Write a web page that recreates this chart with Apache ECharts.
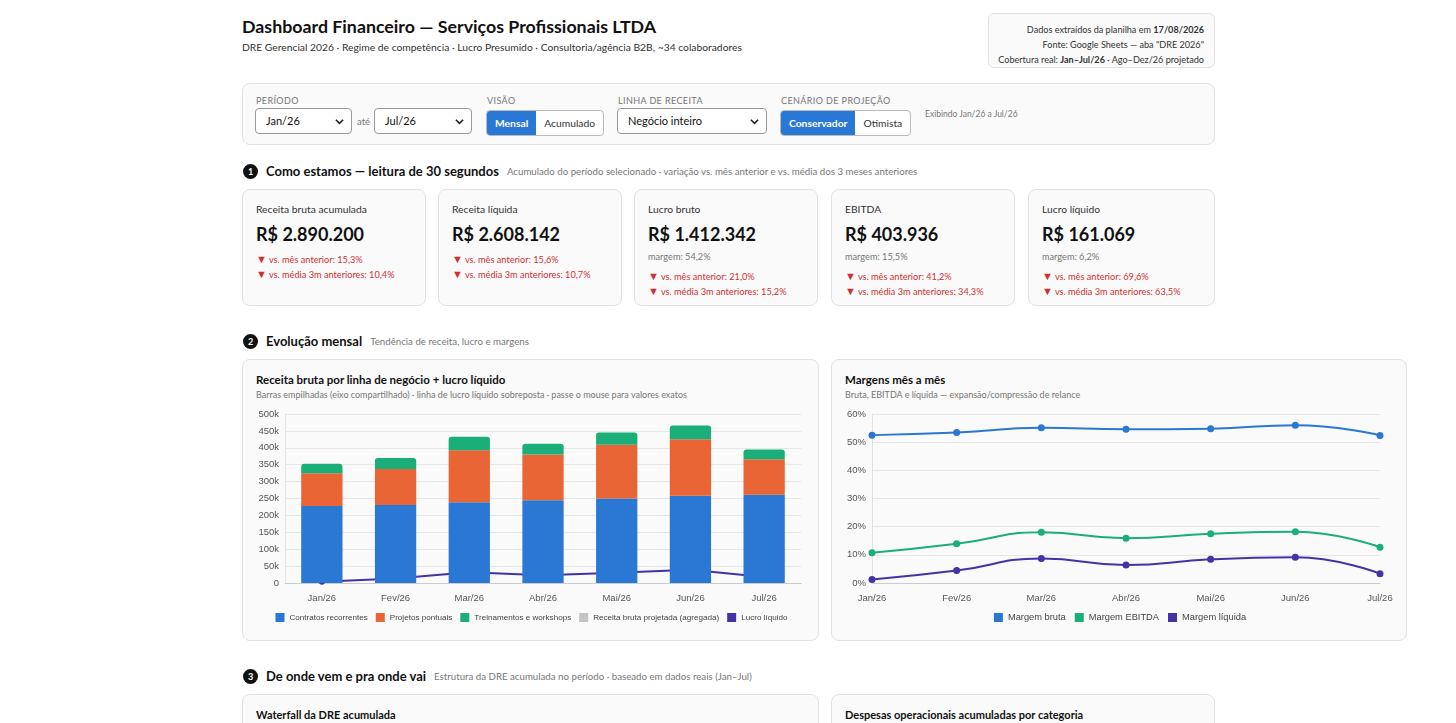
<!DOCTYPE html>
<html lang="pt-BR">
<head>
<meta charset="utf-8">
<title>Dashboard Financeiro</title>
<script src="https://cdn.jsdelivr.net/npm/echarts@6/dist/echarts.min.js"></script>
<style>
  body { margin: 0; background: #fff; font-family: Lato, "Noto Sans", sans-serif; color: #111; }
  .page { position: relative; width: 1456px; height: 723px; overflow: hidden; }
  .abs { position: absolute; }
  .title { left: 242px; top: 15px; font-size: 17.8px; font-weight: 700; }
  .subtitle { left: 242px; top: 41px; font-size: 10.3px; color: #333; }
  .info { left: 988px; top: 13px; width: 227px; height: 55px; box-sizing: border-box; border: 1px solid #e2e2e2;
          border-radius: 6px; background: #fafafa; font-size: 9.1px; color: #333; text-align: right; padding: 8px 10px 0 0;
          line-height: 15px; white-space: nowrap; }
  .box { border: 1px solid #e2e2e2; border-radius: 8px; background: #fafafa; box-sizing: border-box; }
  .flabel { font-size: 9px; color: #777; letter-spacing: .4px; text-transform: uppercase; top: 95px; }
  .sel { top: 108px; height: 26px; box-sizing: border-box; border: 1px solid #999; border-radius: 4px; background: #fff;
         font-size: 11px; line-height: 24px; padding-left: 10px; }
  .sel svg { position: absolute; right: 7px; top: 8px; }
  .btns { top: 110px; height: 24px; display: flex; border: 1px solid #bbb; border-radius: 4px; overflow: hidden; background: #fff; }
  .btns div { font-size: 10.3px; line-height: 24px; padding: 0 8px; color: #333; }
  .btns .on { background: #2a78d6; color: #fff; font-weight: 700; }
  .sec { font-size: 13px; font-weight: 700; display: flex; align-items: center; }
  .sec .num { width: 15px; height: 15px; border-radius: 50%; background: #111; color: #fff; font-size: 9px;
              text-align: center; line-height: 15px; margin-right: 8px; }
  .sec .note { font-size: 9.7px; font-weight: 400; color: #777; margin-left: 8px; }
  .kpi { top: 189px; width: 184px; height: 117px; padding: 13px 0 0 13px; }
  .kpi .lb { font-size: 10.3px; color: #333; }
  .kpi .val { font-size: 18px; font-weight: 700; margin-top: 8px; }
  .kpi .mg { font-size: 9.2px; color: #777; margin-top: 6px; }
  .kpi .dn { font-size: 9.2px; color: #d0302f; margin-top: 3px; line-height: 11px; }
  .kpi .dn span { font-size: 11px; margin-right: 2px; }
  .kpi .dn.first { margin-top: 8px; }
  .card { top: 359px; height: 282px; }
  .card .ct { position: absolute; left: 13px; top: 13px; font-size: 11.5px; font-weight: 700; }
  .card .cs { position: absolute; left: 13px; top: 29px; font-size: 9px; color: #777; }
  .chart { position: absolute; left: 0; top: 40px; height: 235px; }
  .card3 { top: 694px; height: 80px; }
  .card3 .ct { position: absolute; left: 13px; top: 13px; font-size: 11px; font-weight: 700; }
</style>
</head>
<body>
<div class="page">
  <div class="abs title">Dashboard Financeiro — Serviços Profissionais LTDA</div>
  <div class="abs subtitle">DRE Gerencial 2026 · Regime de competência · Lucro Presumido · Consultoria/agência B2B, ~34 colaboradores</div>
  <div class="abs info">
    Dados extraídos da planilha em <b>17/08/2026</b><br>
    Fonte: Google Sheets — aba "DRE 2026"<br>
    Cobertura real: <b>Jan–Jul/26</b> · Ago–Dez/26 projetado
  </div>

  <div class="abs box" style="left:242px;top:83px;width:973px;height:62px;"></div>
  <div class="abs flabel" style="left:256px;">Período</div>
  <div class="abs sel" style="left:255px;width:97px;">Jan/26<svg width="9" height="9" viewBox="0 0 10 10"><path d="M1 3 L5 7 L9 3" stroke="#222" stroke-width="1.8" fill="none"/></svg></div>
  <div class="abs" style="left:357px;top:116px;font-size:9.5px;color:#777;">até</div>
  <div class="abs sel" style="left:374px;width:98px;">Jul/26<svg width="9" height="9" viewBox="0 0 10 10"><path d="M1 3 L5 7 L9 3" stroke="#222" stroke-width="1.8" fill="none"/></svg></div>
  <div class="abs flabel" style="left:487px;">Visão</div>
  <div class="abs btns" style="left:486px;"><div class="on">Mensal</div><div>Acumulado</div></div>
  <div class="abs flabel" style="left:618px;">Linha de receita</div>
  <div class="abs sel" style="left:617px;width:150px;">Negócio inteiro<svg width="9" height="9" viewBox="0 0 10 10"><path d="M1 3 L5 7 L9 3" stroke="#222" stroke-width="1.8" fill="none"/></svg></div>
  <div class="abs flabel" style="left:781px;">Cenário de projeção</div>
  <div class="abs btns" style="left:780px;"><div class="on">Conservador</div><div>Otimista</div></div>
  <div class="abs" style="left:925px;top:109px;font-size:8.5px;color:#777;">Exibindo Jan/26 a Jul/26</div>

  <div class="abs sec" style="left:243px;top:163px;"><span class="num">1</span>Como estamos — leitura de 30 segundos<span class="note">Acumulado do período selecionado · variação vs. mês anterior e vs. média dos 3 meses anteriores</span></div>
  <div id="kpis"></div>

  <div class="abs sec" style="left:243px;top:333px;"><span class="num">2</span>Evolução mensal<span class="note">Tendência de receita, lucro e margens</span></div>
  <div class="abs box card" style="left:242px;width:577px;">
    <div class="ct">Receita bruta por linha de negócio + lucro líquido</div>
    <div class="cs">Barras empilhadas (eixo compartilhado) · linha de lucro líquido sobreposta · passe o mouse para valores exatos</div>
    <div id="revChart" class="chart" style="width:577px;"></div>
  </div>
  <div class="abs box card" style="left:831px;width:576px;">
    <div class="ct">Margens mês a mês</div>
    <div class="cs">Bruta, EBITDA e líquida — expansão/compressão de relance</div>
    <div id="marginChart" class="chart" style="width:576px;"></div>
  </div>

  <div class="abs sec" style="left:243px;top:668px;"><span class="num">3</span>De onde vem e pra onde vai<span class="note">Estrutura da DRE acumulada no período · baseado em dados reais (Jan–Jul)</span></div>
  <div class="abs box card3" style="left:242px;width:577px;"><div class="ct">Waterfall da DRE acumulada</div></div>
  <div class="abs box card3" style="left:831px;width:384px;"><div class="ct">Despesas operacionais acumuladas por categoria</div></div>
</div>

<script>
// meses exibidos
var months = ['Jan/26', 'Fev/26', 'Mar/26', 'Abr/26', 'Mai/26', 'Jun/26', 'Jul/26'];

// receita bruta por linha (R$)
var recorrentes = [228000, 231000, 239000, 245000, 250000, 258000, 261000];
var pontuais = [97000, 106000, 154000, 135000, 159000, 167000, 105000];
var treinamentos = [28000, 33000, 40000, 32000, 36000, 41000, 29000];
var projetada = [];
var lucroLiquido = [4000, 13000, 32000, 23000, 30000, 39000, 18000];

// margens (%)
var margemBruta = [52.5, 53.4, 55.1, 54.6, 54.8, 56.0, 52.4];
var margemEbitda = [10.7, 13.9, 18.0, 15.9, 17.5, 18.2, 12.7];
var margemLiquida = [1.2, 4.4, 8.7, 6.4, 8.4, 9.1, 3.3];

// cards de KPI
var kpiLabels = ['Receita bruta acumulada', 'Receita líquida', 'Lucro bruto', 'EBITDA', 'Lucro líquido'];
var kpiValues = ['R$ 2.890.200', 'R$ 2.608.142', 'R$ 1.412.342', 'R$ 403.936', 'R$ 161.069'];
var kpiMargins = [null, null, '54,2%', '15,5%', '6,2%'];
var kpiVsMes = ['15,3%', '15,6%', '21,0%', '41,2%', '69,6%'];
var kpiVs3m = ['10,4%', '10,7%', '15,2%', '34,3%', '63,5%'];
var kpiLeft = [242, 438, 634, 831, 1028];
var kpiWidth = [184, 184, 184, 184, 187];

var html = '';
for (var i = 0; i < kpiLabels.length; ++i) {
  html += '<div class="abs box kpi" style="left:' + kpiLeft[i] + 'px;width:' + kpiWidth[i] + 'px;">' +
    '<div class="lb">' + kpiLabels[i] + '</div>' +
    '<div class="val">' + kpiValues[i] + '</div>' +
    (kpiMargins[i] ? '<div class="mg">margem: ' + kpiMargins[i] + '</div>' : '') +
    '<div class="dn first"><span>▼</span>vs. mês anterior: ' + kpiVsMes[i] + '</div>' +
    '<div class="dn"><span>▼</span>vs. média 3m anteriores: ' + kpiVs3m[i] + '</div>' +
    '</div>';
}
document.getElementById('kpis').innerHTML = html;

var blue = '#2a77d4', orange = '#e96535', green = '#1aae78', gray = '#c4c4c4', purple = '#4433a6';
var chartFont = '"Liberation Sans", Arial, sans-serif';

var axisText = { color: '#555', fontSize: 9.5 };

function legendOf(names, size, gap) {
  return {
    data: names,
    bottom: 8,
    itemWidth: 9,
    itemHeight: 9,
    itemGap: gap,
    icon: 'rect',
    textStyle: { color: '#444', fontSize: size }
  };
}

var revChart = echarts.init(document.getElementById('revChart'));
revChart.setOption({
  animation: false,
  textStyle: { fontFamily: chartFont },
  color: [blue, orange, green, gray, purple],
  legend: legendOf(['Contratos recorrentes', 'Projetos pontuais', 'Treinamentos e workshops', 'Receita bruta projetada (agregada)', 'Lucro líquido'], 8.1, 8),
  grid: { left: 42, right: 19, top: 14, bottom: 52 },
  xAxis: {
    type: 'category',
    data: months,
    axisTick: { show: false },
    axisLine: { lineStyle: { color: '#ccc' } },
    axisLabel: Object.assign({ margin: 10 }, axisText)
  },
  yAxis: {
    type: 'value',
    min: 0,
    max: 500000,
    interval: 50000,
    axisLine: { show: true, lineStyle: { color: '#e2e2e2' } },
    splitLine: { lineStyle: { color: '#e6e6e6' } },
    axisLabel: Object.assign({ margin: 6, formatter: function (v) { return v === 0 ? '0' : (v / 1000) + 'k'; } }, axisText)
  },
  series: [
    { name: 'Contratos recorrentes', type: 'bar', stack: 'rb', barWidth: '56%', z: 3, data: recorrentes },
    { name: 'Projetos pontuais', type: 'bar', stack: 'rb', z: 3, data: pontuais },
    { name: 'Treinamentos e workshops', type: 'bar', stack: 'rb', z: 3, itemStyle: { borderRadius: [3, 3, 0, 0] }, data: treinamentos },
    { name: 'Receita bruta projetada (agregada)', type: 'bar', stack: 'rb', z: 3, data: projetada },
    { name: 'Lucro líquido', type: 'line', z: 1, symbol: 'circle', symbolSize: 6, lineStyle: { width: 2 }, data: lucroLiquido }
  ]
});

var marginChart = echarts.init(document.getElementById('marginChart'));
marginChart.setOption({
  animation: false,
  textStyle: { fontFamily: chartFont },
  color: [blue, green, purple],
  legend: legendOf(['Margem bruta', 'Margem EBITDA', 'Margem líquida'], 9.3, 9),
  grid: { left: 40, right: 28, top: 14, bottom: 52 },
  xAxis: {
    type: 'category',
    data: months,
    boundaryGap: false,
    axisTick: { show: false },
    axisLine: { lineStyle: { color: '#ccc' } },
    axisLabel: Object.assign({ margin: 10 }, axisText)
  },
  yAxis: {
    type: 'value',
    min: 0,
    max: 60,
    interval: 10,
    axisLine: { show: true, lineStyle: { color: '#e2e2e2' } },
    splitLine: { lineStyle: { color: '#e6e6e6' } },
    axisLabel: Object.assign({ margin: 6, formatter: '{value}%' }, axisText)
  },
  series: [
    { name: 'Margem bruta', type: 'line', smooth: true, symbol: 'circle', symbolSize: 7, lineStyle: { width: 2 }, data: margemBruta },
    { name: 'Margem EBITDA', type: 'line', smooth: true, symbol: 'circle', symbolSize: 7, lineStyle: { width: 2 }, data: margemEbitda },
    { name: 'Margem líquida', type: 'line', smooth: true, symbol: 'circle', symbolSize: 7, lineStyle: { width: 2 }, data: margemLiquida }
  ]
});
</script>
</body>
</html>
